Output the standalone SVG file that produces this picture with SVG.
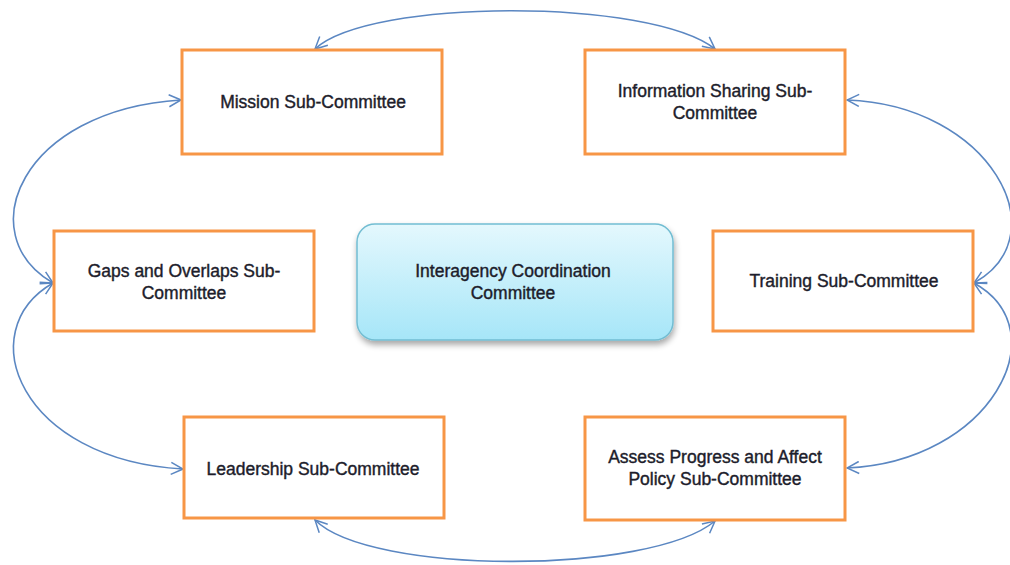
<svg xmlns="http://www.w3.org/2000/svg" width="1010" height="565" viewBox="0 0 1010 565">
  <defs>
    <linearGradient id="coreFill" x1="0" y1="0" x2="0" y2="1">
      <stop offset="0" stop-color="#e4f8fd"/>
      <stop offset="1" stop-color="#a6e6f8"/>
    </linearGradient>
    <filter id="shadow" x="-10%" y="-10%" width="120%" height="130%">
      <feGaussianBlur in="SourceAlpha" stdDeviation="3"/>
      <feOffset dx="1" dy="4" result="b"/>
      <feComponentTransfer><feFuncA type="linear" slope="0.35"/></feComponentTransfer>
      <feMerge><feMergeNode/><feMergeNode in="SourceGraphic"/></feMerge>
    </filter>
    <marker id="vhead" viewBox="0 0 14 14" refX="13" refY="7" markerWidth="14" markerHeight="14" markerUnits="userSpaceOnUse" orient="auto-start-reverse">
      <path d="M1,1 L13,7 L1,13" fill="none" stroke="#5b87c2" stroke-width="1.5"/>
    </marker>
  </defs>
  <style>
    .sub { fill: #ffffff; stroke: #f79646; stroke-width: 3; }
    .lbl { font-family: "Liberation Sans", Arial, sans-serif; font-size: 17.5px; fill: #1d1d2b; text-anchor: middle; dominant-baseline: central; stroke: #1d1d2b; stroke-width: 0.4; }
    .link { fill: none; stroke: #5b87c2; stroke-width: 1.6; marker-start: url(#vhead); marker-end: url(#vhead); }
  </style>
  <rect width="1010" height="565" fill="#ffffff"/>

  <g id="connectors">
    <path class="link" d="M315,49 C370,-2 650,-2 715,49"/>
    <path class="link" d="M181,100 C20,110 -30,235 53,283"/>
    <path class="link" d="M53,283 C-30,331 20,460 183,469"/>
    <path class="link" d="M847,100 C990,105 1060,235 974,283"/>
    <path class="link" d="M974,283 C1060,331 990,462 847,468"/>
    <path class="link" d="M315,520 C370,575 650,575 715,521"/>
  </g>

  <g id="mission">
    <rect class="sub" x="182" y="50" width="260" height="104"/>
    <text class="lbl" x="313" y="102">Mission Sub-Committee</text>
  </g>
  <g id="information-sharing">
    <rect class="sub" x="585" y="50" width="260" height="104"/>
    <text class="lbl" x="715" y="91">Information Sharing Sub-</text>
    <text class="lbl" x="715" y="113">Committee</text>
  </g>
  <g id="gaps-overlaps">
    <rect class="sub" x="54" y="231" width="260" height="100"/>
    <text class="lbl" x="184" y="271">Gaps and Overlaps Sub-</text>
    <text class="lbl" x="184" y="293">Committee</text>
  </g>
  <g id="interagency">
    <rect x="357" y="224" width="316" height="116" rx="18" ry="18" fill="url(#coreFill)" stroke="#72bdd2" stroke-width="1.5" filter="url(#shadow)"/>
    <text class="lbl" x="513" y="271">Interagency Coordination</text>
    <text class="lbl" x="513" y="293">Committee</text>
  </g>
  <g id="training">
    <rect class="sub" x="713" y="231" width="260" height="100"/>
    <text class="lbl" x="844" y="281">Training Sub-Committee</text>
  </g>
  <g id="leadership">
    <rect class="sub" x="184" y="417" width="260" height="101"/>
    <text class="lbl" x="313" y="469">Leadership Sub-Committee</text>
  </g>
  <g id="assess-progress">
    <rect class="sub" x="585" y="417" width="260" height="103"/>
    <text class="lbl" x="715" y="457">Assess Progress and Affect</text>
    <text class="lbl" x="715" y="479">Policy Sub-Committee</text>
  </g>
</svg>
